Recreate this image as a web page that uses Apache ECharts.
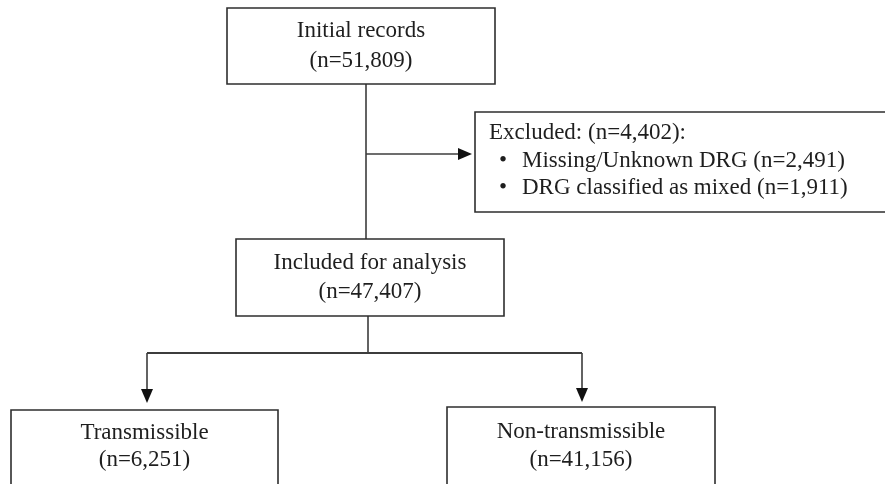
<!DOCTYPE html>
<html>
<head>
<meta charset="utf-8">
<script src="https://cdn.jsdelivr.net/npm/echarts@6/dist/echarts.min.js"></script>
<style>
html,body{margin:0;padding:0;background:#fff;}
#chart{width:885px;height:484px;}
</style>
</head>
<body>
<div id="chart"></div>
<script>
// ---- Data ----
const nodeLabels = ['Initial records', 'Included for analysis', 'Transmissible', 'Non-transmissible'];
const nodeCounts = [51809, 47407, 6251, 41156];
const excludedLabel = 'Excluded:';
const excludedTotal = 4402;
const excludedReasons = ['Missing/Unknown DRG', 'DRG classified as mixed'];
const excludedCounts = [2491, 1911];

// ---- Layout (positions in axis units, 0..885 x 0..484) ----
const boxes = [
  [227, 8, 495, 84],
  [236, 239, 504, 316],
  [11, 410, 278, 520],
  [447, 407, 715, 520]
];
const boxLines = [[31, 61], [263, 292], [433, 460], [432, 460]];
const exBox = [475, 112, 900, 212];
const exText = { x: 489, y: 133, bx: 503, tx: 522, ys: [161, 188] };

const fmt = n => n.toLocaleString('en-US');
const FONT = '23px "Liberation Serif", "Times New Roman", serif';
const TXT = '#1e1e1e';
const LINE = '#3c3c3c';

function renderItem(params, api) {
  const c = (x, y) => api.coord([x, y]);
  const children = [];
  const rect = (b) => {
    const p0 = c(b[0], b[1]), p1 = c(b[2], b[3]);
    children.push({ type: 'rect', shape: { x: p0[0], y: p0[1], width: p1[0] - p0[0], height: p1[1] - p0[1] },
      style: { fill: '#fff', stroke: '#2e2e2e', lineWidth: 1.6 } });
  };
  const text = (s, x, y, align) => {
    const p = c(x, y);
    children.push({ type: 'text', style: { text: s, x: p[0], y: p[1], font: FONT, fill: TXT,
      align: align || 'center', verticalAlign: 'middle' } });
  };
  const line = (x1, y1, x2, y2, w) => {
    const a = c(x1, y1), b = c(x2, y2);
    children.push({ type: 'line', shape: { x1: a[0], y1: a[1], x2: b[0], y2: b[1] },
      style: { stroke: LINE, lineWidth: w || 1.6 } });
  };
  const arrowDown = (x, tipY) => {
    const pts = [c(x - 6, tipY - 14), c(x + 6, tipY - 14), c(x, tipY)];
    children.push({ type: 'polygon', shape: { points: pts }, style: { fill: '#111' } });
  };
  const arrowRight = (tipX, y) => {
    const pts = [c(tipX - 14, y - 6), c(tipX - 14, y + 6), c(tipX, y)];
    children.push({ type: 'polygon', shape: { points: pts }, style: { fill: '#111' } });
  };

  // connectors
  line(366, 84, 366, 239);
  line(366, 154, 460, 154);
  arrowRight(472, 154);
  line(368, 316, 368, 353);
  line(147, 353, 582, 353, 2);
  line(147, 353, 147, 392);
  arrowDown(147, 403);
  line(582, 353, 582, 390);
  arrowDown(582, 402);

  // main boxes
  boxes.forEach((b, i) => {
    rect(b);
    const cx = (b[0] + b[2]) / 2;
    text(nodeLabels[i], cx, boxLines[i][0]);
    text('(n=' + fmt(nodeCounts[i]) + ')', cx, boxLines[i][1]);
  });

  // excluded box
  rect(exBox);
  text(excludedLabel + ' (n=' + fmt(excludedTotal) + '):', exText.x, exText.y, 'left');
  excludedReasons.forEach((r, i) => {
    text('\u2022', exText.bx, exText.ys[i], 'center');
    text(r + ' (n=' + fmt(excludedCounts[i]) + ')', exText.tx, exText.ys[i], 'left');
  });

  return { type: 'group', children };
}

const chart = echarts.init(document.getElementById('chart'), null, { renderer: 'canvas' });
chart.setOption({
  animation: false,
  backgroundColor: '#fff',
  grid: { left: 0, right: 0, top: 0, bottom: 0 },
  xAxis: { type: 'value', min: 0, max: 885, show: false },
  yAxis: { type: 'value', min: 0, max: 484, inverse: true, show: false },
  series: [{
    type: 'custom',
    clip: true,
    renderItem: renderItem,
    data: [[0, 0]]
  }]
});
</script>
</body>
</html>
